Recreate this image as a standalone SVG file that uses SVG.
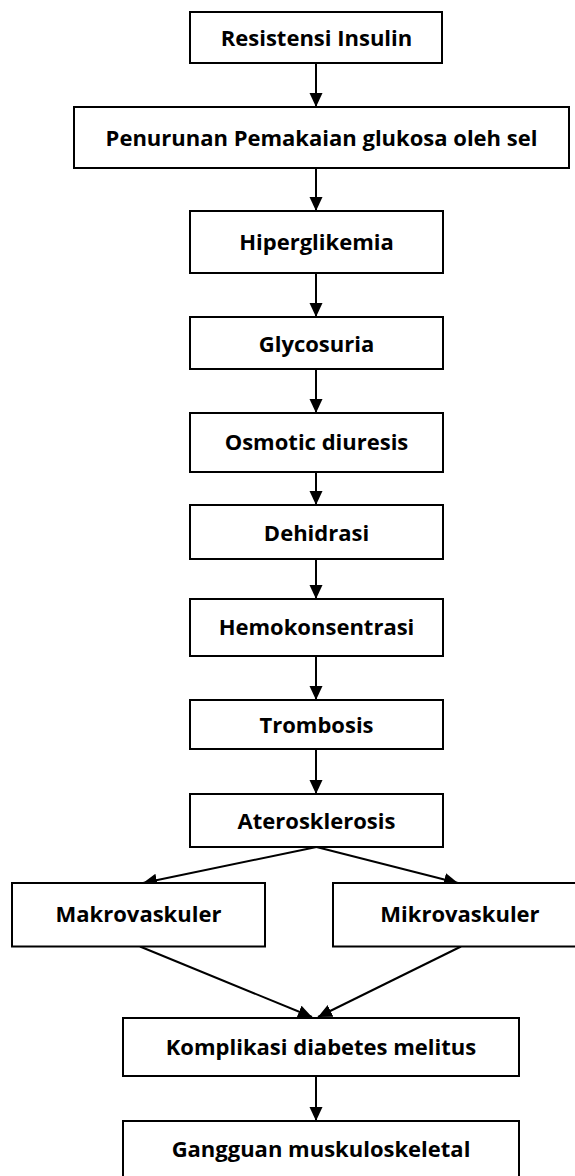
<svg xmlns="http://www.w3.org/2000/svg" width="575" height="1176" viewBox="0 0 575 1176">
<style>
  .box { fill: #ffffff; stroke: #000000; stroke-width: 2; }
  .lbl { font-family: "Open Sans", "Liberation Sans", sans-serif; font-weight: bold; font-size: 22px; fill: #000000; text-anchor: middle; }
  .con { stroke: #000000; stroke-width: 2; fill: none; marker-end: url(#arr); }
</style>
<defs>
  <marker id="arr" viewBox="0 0 14 14" refX="14" refY="7" markerWidth="14" markerHeight="14" markerUnits="userSpaceOnUse" orient="auto">
    <path d="M0,0.5 L14,7 L0,13.5 Z" fill="#000000"/>
  </marker>
</defs>
<rect width="575" height="1176" fill="#ffffff"/>
<g id="connectors">
  <line class="con" x1="316" y1="63" x2="316" y2="107"/>
  <line class="con" x1="316" y1="168" x2="316" y2="211"/>
  <line class="con" x1="316" y1="273" x2="316" y2="317"/>
  <line class="con" x1="316" y1="369" x2="316" y2="413"/>
  <line class="con" x1="316" y1="472" x2="316" y2="505"/>
  <line class="con" x1="316" y1="559" x2="316" y2="599"/>
  <line class="con" x1="316" y1="656" x2="316" y2="700"/>
  <line class="con" x1="316" y1="749" x2="316" y2="794"/>
  <line class="con" x1="316.5" y1="847" x2="143" y2="883"/>
  <line class="con" x1="316.5" y1="847" x2="458" y2="883"/>
  <line class="con" x1="140" y1="946.5" x2="312" y2="1017"/>
  <line class="con" x1="461" y1="946.5" x2="318" y2="1017"/>
  <line class="con" x1="316" y1="1076" x2="316" y2="1121"/>
</g>
<g id="n1"><rect class="box" x="190" y="12" width="252" height="51"/><text class="lbl" x="316.5" y="46">Resistensi Insulin</text></g>
<g id="n2"><rect class="box" x="74" y="107" width="495" height="61"/><text class="lbl" x="321.5" y="146">Penurunan Pemakaian glukosa oleh sel</text></g>
<g id="n3"><rect class="box" x="190" y="211" width="253" height="62"/><text class="lbl" x="316.5" y="250">Hiperglikemia</text></g>
<g id="n4"><rect class="box" x="190" y="317" width="253" height="52"/><text class="lbl" x="316.5" y="352">Glycosuria</text></g>
<g id="n5"><rect class="box" x="190" y="413" width="253" height="59"/><text class="lbl" x="316.5" y="450">Osmotic diuresis</text></g>
<g id="n6"><rect class="box" x="190" y="505" width="253" height="54"/><text class="lbl" x="316.5" y="541">Dehidrasi</text></g>
<g id="n7"><rect class="box" x="190" y="599" width="253" height="57"/><text class="lbl" x="316.5" y="635">Hemokonsentrasi</text></g>
<g id="n8"><rect class="box" x="190" y="700" width="253" height="49"/><text class="lbl" x="316.5" y="733">Trombosis</text></g>
<g id="n9"><rect class="box" x="190" y="794" width="253" height="53"/><text class="lbl" x="316.5" y="829">Aterosklerosis</text></g>
<g id="n10"><rect class="box" x="12" y="883" width="253" height="63.5"/><text class="lbl" x="138.5" y="922">Makrovaskuler</text></g>
<g id="n11"><rect class="box" x="333" y="883" width="260" height="63.5"/><text class="lbl" x="460" y="922">Mikrovaskuler</text></g>
<g id="n12"><rect class="box" x="123" y="1018" width="396" height="58"/><text class="lbl" x="321" y="1055">Komplikasi diabetes melitus</text></g>
<g id="n13"><rect class="box" x="123" y="1121" width="396" height="70"/><text class="lbl" x="321" y="1157">Gangguan muskuloskeletal</text></g>
</svg>
